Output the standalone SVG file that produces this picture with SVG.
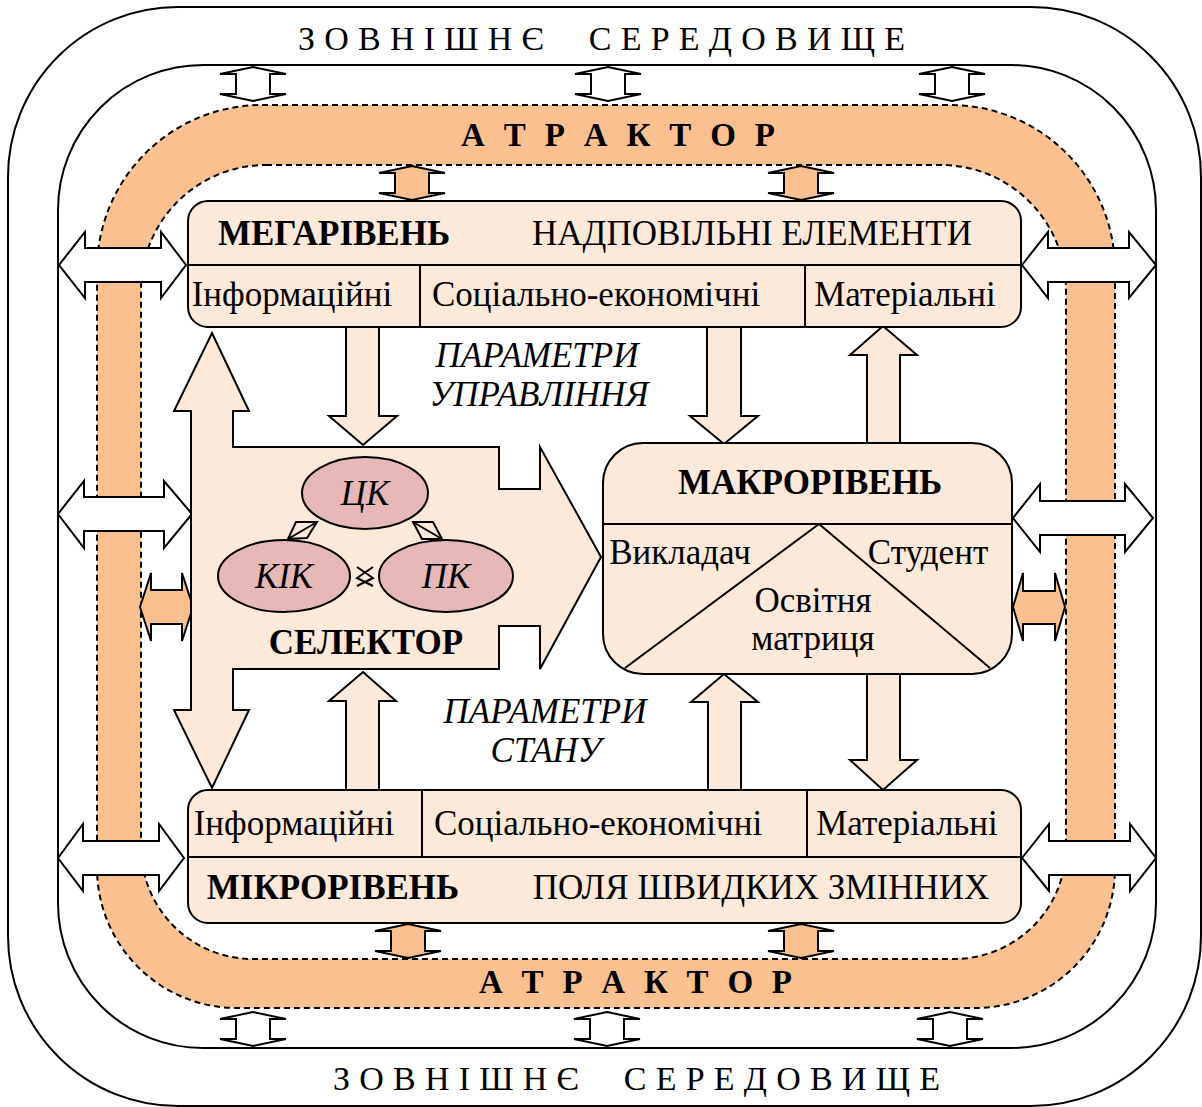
<svg xmlns="http://www.w3.org/2000/svg" xmlns:xlink="http://www.w3.org/1999/xlink" width="1202" height="1107" viewBox="0 0 1202 1107">
<style>
.ln{stroke:#000;stroke-width:2;fill:none}
.wh{fill:#fff;stroke:#000;stroke-width:2;stroke-linejoin:miter}
.or{fill:#FAC090;stroke:#000;stroke-width:2}
.pc{fill:#FDE9D9;stroke:#000;stroke-width:2}
.pk{fill:#E6B9B8;stroke:#000;stroke-width:2}
.dash{fill:none;stroke:#000;stroke-width:2;stroke-dasharray:6 4}
.t{font-family:"Liberation Serif","DejaVu Serif",serif;fill:#000}
.r{font-size:35px}
.b{font-size:35px;font-weight:bold}
.i{font-size:35px;font-style:italic}
.e{font-size:34px}
.a{font-size:33px;font-weight:bold}
</style>
<defs>
<polygon id="va" points="0,-17 33,-10 17,-10 17,10 33,10 0,17 -33,10 -17,10 -17,-10 -33,-10" stroke="#000" stroke-width="2"/>
</defs>
<g id="environment">
<rect x="8" y="7" width="1193" height="1099" rx="170" ry="170" class="ln"/>
<rect x="58" y="65" width="1098" height="983" rx="145" ry="145" class="wh"/>
</g>
<g id="attractor">
<path fill="#FAC090" fill-rule="evenodd" d="M262 105 H950 A165 165 0 0 1 1115 270 V868 A140 140 0 0 1 975 1008 H237 A140 140 0 0 1 97 868 V270 A165 165 0 0 1 262 105 Z M266 165 H941 A125 125 0 0 1 1066 290 V847 A112 112 0 0 1 954 959 H253 A112 112 0 0 1 141 847 V290 A125 125 0 0 1 266 165 Z"/>
<path class="dash" d="M262 105 H950 A165 165 0 0 1 1115 270 V868 A140 140 0 0 1 975 1008 H237 A140 140 0 0 1 97 868 V270 A165 165 0 0 1 262 105 Z"/>
<path class="dash" d="M266 165 H941 A125 125 0 0 1 1066 290 V847 A112 112 0 0 1 954 959 H253 A112 112 0 0 1 141 847 V290 A125 125 0 0 1 266 165 Z"/>
<text class="t a" x="461" y="146" textLength="314" lengthAdjust="spacing">А Т Р А К Т О Р</text>
<text class="t a" x="479" y="993" textLength="313" lengthAdjust="spacing">А Т Р А К Т О Р</text>
</g>
<g id="env-labels">
<text class="t e" x="298" y="50" textLength="607" lengthAdjust="spacing">З О В Н І Ш Н Є&#160;&#160;&#160;&#160;&#160;С Е Р Е Д О В И Щ Е</text>
<text class="t e" x="333" y="1090" textLength="607" lengthAdjust="spacing">З О В Н І Ш Н Є&#160;&#160;&#160;&#160;&#160;С Е Р Е Д О В И Щ Е</text>
</g>
<g id="connectors">
<use xlink:href="#va" x="253" y="84" fill="#fff"/>
<use xlink:href="#va" x="608" y="84" fill="#fff"/>
<use xlink:href="#va" x="952" y="84" fill="#fff"/>
<use xlink:href="#va" x="412" y="183" fill="#FAC090"/>
<use xlink:href="#va" x="801" y="183" fill="#FAC090"/>
<use xlink:href="#va" x="408" y="941" fill="#FAC090"/>
<use xlink:href="#va" x="801" y="941" fill="#FAC090"/>
<use xlink:href="#va" x="253" y="1029" fill="#fff"/>
<use xlink:href="#va" x="607" y="1029" fill="#fff"/>
<use xlink:href="#va" x="950" y="1029" fill="#fff"/>
<polygon class="wh" points="59,265 85,232 85,248 161,248 161,232 186,265 161,298 161,282 85,282 85,298"/>
<polygon class="wh" points="58,514 84,481 84,497 164,497 164,481 192,514 164,548 164,531 84,531 84,548"/>
<polygon class="wh" points="58,858 83,824 83,841 159,841 159,824 184,858 159,891 159,875 83,875 83,891"/>
<polygon class="wh" points="1022,265 1048,232 1048,248 1129,248 1129,232 1156,265 1129,298 1129,282 1048,282 1048,298"/>
<polygon class="wh" points="1013,518 1040,484 1040,501 1125,501 1125,484 1153,518 1125,552 1125,535 1040,535 1040,552"/>
<polygon class="wh" points="1022,858 1049,824 1049,841 1130,841 1130,824 1156,858 1130,891 1130,875 1049,875 1049,891"/>
<polygon class="or" points="140,607 151,573 151,590 182,590 182,573 193,607 182,641 182,624 151,624 151,641"/>
<polygon class="or" points="1013,607 1023,573 1023,591 1055,591 1055,573 1065,607 1055,641 1055,624 1023,624 1023,641"/>
<polygon class="pc" points="346,327 379,327 379,416 397,416 363,445 329,416 346,416"/>
<polygon class="pc" points="707,327 741,327 741,416 758,416 724,444 690,416 707,416"/>
<polygon class="pc" points="867,443 900,443 900,355 917,355 883,326 850,355 867,355"/>
<polygon class="pc" points="346,790 379,790 379,701 396,701 363,672 329,701 346,701"/>
<polygon class="pc" points="708,790 741,790 741,702 758,702 724,674 691,702 708,702"/>
<polygon class="pc" points="867,674 900,674 900,760 917,760 883,790 850,760 867,760"/>
</g>
<g id="mega">
<rect class="pc" x="188" y="201" width="833" height="126" rx="20" ry="20"/>
<line class="ln" x1="188" y1="265" x2="1021" y2="265"/>
<line class="ln" x1="420" y1="265" x2="420" y2="327"/>
<line class="ln" x1="805" y1="265" x2="805" y2="327"/>
<text class="t b" x="334" y="245" text-anchor="middle">МЕГАРІВЕНЬ</text>
<text class="t r" x="752" y="245" text-anchor="middle">НАДПОВІЛЬНІ ЕЛЕМЕНТИ</text>
<text class="t r" x="292" y="306" text-anchor="middle">Інформаційні</text>
<text class="t r" x="596" y="306" text-anchor="middle">Соціально-економічні</text>
<text class="t r" x="905" y="306" text-anchor="middle">Матеріальні</text>
</g>
<g id="micro">
<rect class="pc" x="188" y="790" width="833" height="133" rx="20" ry="20"/>
<line class="ln" x1="188" y1="857" x2="1021" y2="857"/>
<line class="ln" x1="422" y1="790" x2="422" y2="857"/>
<line class="ln" x1="807" y1="790" x2="807" y2="857"/>
<text class="t r" x="294" y="835" text-anchor="middle">Інформаційні</text>
<text class="t r" x="598" y="835" text-anchor="middle">Соціально-економічні</text>
<text class="t r" x="907" y="835" text-anchor="middle">Матеріальні</text>
<text class="t b" x="333" y="899" text-anchor="middle">МІКРОРІВЕНЬ</text>
<text class="t r" x="761" y="899" text-anchor="middle">ПОЛЯ ШВИДКИХ ЗМІННИХ</text>
</g>
<g id="selector">
<polygon class="pc" points="212,333 249,411 233,411 233,447 499,447 499,489 540,489 540,447 601,557 540,669 540,626 499,626 499,669 233,669 233,710 249,710 212,788 174,710 191,710 191,411 174,411"/>
<ellipse class="pk" cx="365" cy="493" rx="63" ry="36"/>
<ellipse class="pk" cx="284" cy="576" rx="66" ry="36"/>
<ellipse class="pk" cx="446" cy="576" rx="67" ry="36"/>
<text class="t i" x="365" y="505" text-anchor="middle">ЦК</text>
<text class="t i" x="284" y="588" text-anchor="middle">КІК</text>
<text class="t i" x="446" y="588" text-anchor="middle">ПК</text>
<polygon class="ln" points="296,522 317,522 307,538 288,539"/>
<line class="ln" x1="317" y1="522" x2="288" y2="539"/>
<polygon class="ln" points="413,522 433,522 442,539 422,539"/>
<line class="ln" x1="413" y1="522" x2="442" y2="539"/>
<path class="ln" d="M357 567 L373 578 L357 586 M373 567 L357 578 L373 586"/>
<text class="t b" x="366" y="654" text-anchor="middle">СЕЛЕКТОР</text>
</g>
<g id="macro">
<rect class="pc" x="603" y="443" width="409" height="231" rx="40" ry="40"/>
<line class="ln" x1="603" y1="524" x2="1012" y2="524"/>
<polyline class="ln" points="625,668 819,524 990,668"/>
<text class="t b" x="810" y="494" text-anchor="middle">МАКРОРІВЕНЬ</text>
<text class="t r" x="680" y="564" text-anchor="middle">Викладач</text>
<text class="t r" x="928" y="564" text-anchor="middle">Студент</text>
<text class="t r" x="813" y="612" text-anchor="middle">Освітня</text>
<text class="t r" x="813" y="650" text-anchor="middle">матриця</text>
</g>
<g id="labels">
<text class="t i" x="537" y="367" text-anchor="middle">ПАРАМЕТРИ</text>
<text class="t i" x="539" y="406" text-anchor="middle">УПРАВЛІННЯ</text>
<text class="t i" x="545" y="723" text-anchor="middle">ПАРАМЕТРИ</text>
<text class="t i" x="546" y="762" text-anchor="middle">СТАНУ</text>
</g>
</svg>
